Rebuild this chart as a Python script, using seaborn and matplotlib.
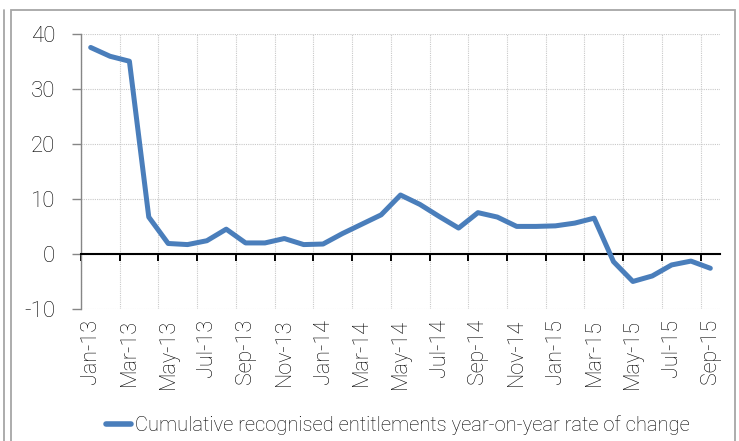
import matplotlib
matplotlib.use("Agg")
import matplotlib.pyplot as plt
from matplotlib.patches import Rectangle
from matplotlib.lines import Line2D
import numpy as np
import pandas as pd
import seaborn as sns

# Monthly series, Jan-13 .. Sep-15
months = ["Jan-13", "Feb-13", "Mar-13", "Apr-13", "May-13", "Jun-13", "Jul-13", "Aug-13",
          "Sep-13", "Oct-13", "Nov-13", "Dec-13", "Jan-14", "Feb-14", "Mar-14", "Apr-14",
          "May-14", "Jun-14", "Jul-14", "Aug-14", "Sep-14", "Oct-14", "Nov-14", "Dec-14",
          "Jan-15", "Feb-15", "Mar-15", "Apr-15", "May-15", "Jun-15", "Jul-15", "Aug-15",
          "Sep-15"]
rate_of_change = [37.5, 35.9, 35.0, 6.7, 1.9, 1.7, 2.4, 4.5,
                  2.0, 2.0, 2.8, 1.7, 1.8, 3.7, 5.4, 7.1,
                  10.7, 9.0, 6.8, 4.7, 7.5, 6.7, 5.0, 5.0,
                  5.1, 5.6, 6.5, -1.4, -5.0, -4.0, -2.0, -1.3,
                  -2.6]
series_name = "Cumulative recognised entitlements year-on-year rate of change"
y_ticks = [-10, 0, 10, 20, 30, 40]

sns.set_style("white")
plt.rcParams["font.family"] = ["Roboto", "DejaVu Sans"]
plt.rcParams["font.weight"] = "light"

df = pd.DataFrame({"idx": np.arange(len(months)), "month": months, "value": rate_of_change})

W, H = 739, 441
fig = plt.figure(figsize=(W / 100, H / 100), dpi=100)
ax = fig.add_axes([81 / W, (H - 309) / H, (720 - 81) / W, 275.3 / H])

line_color = "#4a7ebb"
text_color = "#000000"

sns.lineplot(data=df, x="idx", y="value", ax=ax, color=line_color, linewidth=3.6,
             label=series_name, solid_capstyle="round", solid_joinstyle="round", zorder=5)

n = len(months)
ax.set_xlim(-0.5, n - 0.5)
ax.set_ylim(-10, 40)
ax.set_xlabel("")
ax.set_ylabel("")

# Category boundaries every two months carry tick marks and vertical gridlines
ax.set_xticks(np.arange(-0.5, n - 1, 2))
ax.set_xticklabels([])
ax.set_yticks(y_ticks)
ax.set_yticklabels([str(v) for v in y_ticks])

ax.grid(True, which="major", color="#c9c9c9", linestyle=(0, (1, 1)), linewidth=0.8)
ax.set_axisbelow(True)

for side in ("top", "right"):
    ax.spines[side].set_visible(False)
ax.spines["left"].set_color("#868686")
ax.spines["left"].set_linewidth(1.0)
ax.spines["bottom"].set_position(("data", 0))
ax.spines["bottom"].set_color("black")
ax.spines["bottom"].set_linewidth(1.5)
ax.spines["bottom"].set_zorder(4)

ax.tick_params(axis="x", which="major", direction="out", length=4.8, width=1.4,
               color="black", bottom=True)
ax.tick_params(axis="y", direction="out", length=6.5, width=1.0, color="#868686",
               pad=12, labelsize=16, labelcolor=text_color, left=True)

# Month labels sit below the plot area, centred on every other month
sec = ax.secondary_xaxis("bottom")
sec.set_xticks(df["idx"][::2], df["month"][::2])
sec.tick_params(axis="x", length=0, pad=7, labelsize=15.5, labelcolor=text_color,
                labelrotation=90)
sec.spines["bottom"].set_visible(False)

handles, labels = ax.get_legend_handles_labels()
ax.get_legend().remove()
leg = fig.legend(handles, labels, loc="center", bbox_to_anchor=(397.5 / W, 1 - 425 / H),
                 frameon=False, fontsize=14.5, handlelength=1.25, handletextpad=0.2,
                 borderpad=0, labelcolor=text_color)
for h in leg.get_lines():
    h.set_linewidth(4.0)

# Chart border
fig.patches.append(Rectangle((11 / W, -0.05), (735 - 11) / W, (H - 10) / H + 0.05,
                             transform=fig.transFigure, fill=False,
                             edgecolor="#a6a6a6", linewidth=1.3))
fig.lines.append(Line2D([3.5 / W, 3.5 / W], [0, (H - 10) / H], transform=fig.transFigure,
                        color="#a6a6a6", linewidth=1.3))

fig.savefig("out.png", dpi=100)
